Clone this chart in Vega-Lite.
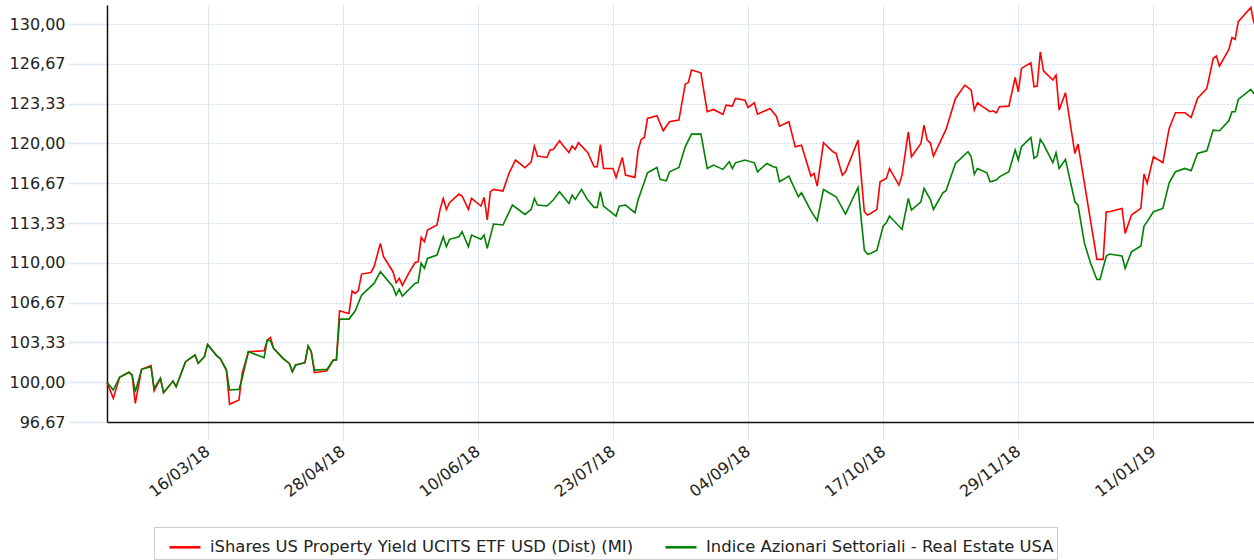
{
 "$schema": "https://vega.github.io/schema/vega-lite/v6.json",
 "autosize": {"type": "none"},
 "width": 1147,
 "height": 417,
 "padding": {"left": 107, "top": 5, "right": 0, "bottom": 138},
 "background": "white",
 "datasets": {
  "names": [
   {"k": "r", "name": "iShares US Property Yield UCITS ETF USD (Dist) (MI)"},
   {"k": "g", "name": "Indice Azionari Settoriali - Real Estate USA"}
  ]
 },
 "data": {"values": [
{"date":"2018-02-12","r":100.0,"g":100.0},
{"date":"2018-02-14","r":98.65,"g":99.35},
{"date":"2018-02-16","r":100.41,"g":100.41},
{"date":"2018-02-19","r":100.83,"g":100.83},
{"date":"2018-02-20","r":100.6,"g":100.6},
{"date":"2018-02-21","r":98.23,"g":99.21},
{"date":"2018-02-23","r":101.08,"g":101.08},
{"date":"2018-02-26","r":101.39,"g":101.3},
{"date":"2018-02-27","r":99.29,"g":99.49},
{"date":"2018-03-01","r":100.32,"g":100.32},
{"date":"2018-03-02","r":99.12,"g":99.12},
{"date":"2018-03-05","r":100.1,"g":100.1},
{"date":"2018-03-06","r":99.63,"g":99.63},
{"date":"2018-03-09","r":101.72,"g":101.72},
{"date":"2018-03-12","r":102.28,"g":102.28},
{"date":"2018-03-13","r":101.58,"g":101.58},
{"date":"2018-03-15","r":102.14,"g":102.14},
{"date":"2018-03-16","r":103.17,"g":103.17},
{"date":"2018-03-19","r":102.19,"g":102.19},
{"date":"2018-03-20","r":102.0,"g":102.0},
{"date":"2018-03-22","r":101.02,"g":101.02},
{"date":"2018-03-23","r":98.15,"g":99.35},
{"date":"2018-03-26","r":98.51,"g":99.4},
{"date":"2018-03-27","r":100.74,"g":100.32},
{"date":"2018-03-29","r":102.56,"g":102.56},
{"date":"2018-04-03","r":102.64,"g":102.06},
{"date":"2018-04-04","r":103.53,"g":103.53},
{"date":"2018-04-05","r":103.76,"g":103.48},
{"date":"2018-04-06","r":102.84,"g":102.84},
{"date":"2018-04-09","r":102.0,"g":102.0},
{"date":"2018-04-11","r":101.58,"g":101.58},
{"date":"2018-04-12","r":100.88,"g":100.88},
{"date":"2018-04-13","r":101.44,"g":101.44},
{"date":"2018-04-16","r":101.64,"g":101.64},
{"date":"2018-04-17","r":103.03,"g":103.03},
{"date":"2018-04-18","r":102.56,"g":102.56},
{"date":"2018-04-19","r":100.8,"g":101.02},
{"date":"2018-04-23","r":100.97,"g":101.08},
{"date":"2018-04-25","r":101.86,"g":101.86},
{"date":"2018-04-26","r":101.86,"g":101.86},
{"date":"2018-04-27","r":105.99,"g":105.29},
{"date":"2018-04-29","r":105.82},
{"date":"2018-04-30","r":105.77,"g":105.29},
{"date":"2018-05-01","r":107.64},
{"date":"2018-05-02","r":107.44,"g":105.99},
{"date":"2018-05-03","r":107.67},
{"date":"2018-05-04","r":109.06,"g":107.3},
{"date":"2018-05-07","r":109.2},
{"date":"2018-05-08","r":109.68,"g":108.28},
{"date":"2018-05-10","r":111.63,"g":109.26},
{"date":"2018-05-11","r":110.51},
{"date":"2018-05-14","r":109.26,"g":108.0},
{"date":"2018-05-15","r":108.34,"g":107.3},
{"date":"2018-05-16","r":108.7,"g":107.78},
{"date":"2018-05-17","r":108.11,"g":107.22},
{"date":"2018-05-19","r":109.12},
{"date":"2018-05-21","r":110.01,"g":108.28},
{"date":"2018-05-22","r":110.1,"g":108.36},
{"date":"2018-05-23","r":112.13,"g":109.96},
{"date":"2018-05-24","r":111.77,"g":109.54},
{"date":"2018-05-25","r":112.75,"g":110.37},
{"date":"2018-05-28","r":113.17,"g":110.65},
{"date":"2018-05-29","r":114.48},
{"date":"2018-05-30","r":115.4,"g":112.19},
{"date":"2018-05-31","r":114.48,"g":111.35},
{"date":"2018-06-01","r":115.04,"g":111.97},
{"date":"2018-06-04","r":115.76,"g":112.19},
{"date":"2018-06-05","r":115.6,"g":112.61},
{"date":"2018-06-07","r":114.48,"g":111.35},
{"date":"2018-06-08","r":115.4,"g":112.33},
{"date":"2018-06-11","r":114.76,"g":111.97},
{"date":"2018-06-12","r":115.48,"g":112.33},
{"date":"2018-06-13","r":113.59,"g":111.21},
{"date":"2018-06-14","r":115.96},
{"date":"2018-06-15","r":116.15,"g":113.25},
{"date":"2018-06-18","r":116.01,"g":113.17},
{"date":"2018-06-20","r":117.55},
{"date":"2018-06-21","g":114.84},
{"date":"2018-06-22","r":118.61},
{"date":"2018-06-25","r":117.97,"g":114.06},
{"date":"2018-06-27","r":118.47,"g":114.48},
{"date":"2018-06-28","r":119.78,"g":115.4},
{"date":"2018-06-29","r":118.95,"g":114.84},
{"date":"2018-07-02","r":118.83,"g":114.76},
{"date":"2018-07-03","r":119.45},
{"date":"2018-07-04","r":119.5,"g":115.26},
{"date":"2018-07-06","r":120.23,"g":115.96},
{"date":"2018-07-07","r":119.87},
{"date":"2018-07-09","r":119.25,"g":114.98},
{"date":"2018-07-10","r":119.78,"g":115.68},
{"date":"2018-07-11","r":119.5,"g":115.32},
{"date":"2018-07-12","r":120.06},
{"date":"2018-07-13","g":116.15},
{"date":"2018-07-15","r":119.22,"g":115.26},
{"date":"2018-07-17","r":118.05,"g":114.65},
{"date":"2018-07-18","r":118.05,"g":114.65},
{"date":"2018-07-19","r":119.9,"g":115.96},
{"date":"2018-07-20","r":117.91,"g":114.75},
{"date":"2018-07-23","r":117.91},
{"date":"2018-07-24","r":117.16,"g":113.92},
{"date":"2018-07-25","g":114.75},
{"date":"2018-07-26","r":118.83},
{"date":"2018-07-27","r":117.35,"g":114.84},
{"date":"2018-07-30","r":117.16,"g":114.2},
{"date":"2018-07-31","r":119.45,"g":115.26},
{"date":"2018-08-01","r":120.34},
{"date":"2018-08-02","r":120.5},
{"date":"2018-08-03","r":122.1,"g":117.55},
{"date":"2018-08-06","r":122.32,"g":117.99},
{"date":"2018-08-07","g":116.99},
{"date":"2018-08-08","r":121.06},
{"date":"2018-08-09","g":116.88},
{"date":"2018-08-10","r":121.82,"g":117.63},
{"date":"2018-08-13","r":121.96,"g":117.99},
{"date":"2018-08-15","r":124.97,"g":119.72},
{"date":"2018-08-16","r":125.11},
{"date":"2018-08-17","r":126.15,"g":120.78},
{"date":"2018-08-20","r":125.92,"g":120.78},
{"date":"2018-08-22","r":122.66,"g":117.91},
{"date":"2018-08-24","r":122.85,"g":118.19},
{"date":"2018-08-27","r":122.43,"g":117.83},
{"date":"2018-08-28","r":123.21},
{"date":"2018-08-29","g":118.47},
{"date":"2018-08-30","r":123.13,"g":117.91},
{"date":"2018-08-31","r":123.77,"g":118.38},
{"date":"2018-09-03","r":123.63,"g":118.61},
{"date":"2018-09-04","r":123.02},
{"date":"2018-09-06","r":123.41,"g":118.38},
{"date":"2018-09-07","r":122.46,"g":117.63},
{"date":"2018-09-10","g":118.33},
{"date":"2018-09-11","r":122.93},
{"date":"2018-09-12","g":118.05},
{"date":"2018-09-13","r":122.29,"g":117.99},
{"date":"2018-09-14","r":121.45,"g":116.79},
{"date":"2018-09-17","r":121.82,"g":117.27},
{"date":"2018-09-19","r":119.72},
{"date":"2018-09-20","g":115.54},
{"date":"2018-09-21","r":119.86,"g":115.87},
{"date":"2018-09-24","r":117.27,"g":114.36},
{"date":"2018-09-25","r":117.49},
{"date":"2018-09-26","r":116.43,"g":113.53},
{"date":"2018-09-28","r":120.06,"g":116.15},
{"date":"2018-10-01","r":119.3},
{"date":"2018-10-02","r":119.17,"g":115.54},
{"date":"2018-10-04","r":117.35},
{"date":"2018-10-05","r":117.63,"g":114.09},
{"date":"2018-10-09","r":120.28,"g":116.32},
{"date":"2018-10-11","r":114.28,"g":111.07},
{"date":"2018-10-12","r":114.0,"g":110.73},
{"date":"2018-10-13","r":114.14,"g":110.79},
{"date":"2018-10-15","r":114.48,"g":111.07},
{"date":"2018-10-16","r":116.79},
{"date":"2018-10-17","g":113.08},
{"date":"2018-10-18","r":117.07,"g":113.36},
{"date":"2018-10-19","r":117.91,"g":113.92},
{"date":"2018-10-22","r":116.52},
{"date":"2018-10-23","r":117.35,"g":112.8},
{"date":"2018-10-25","r":120.98,"g":115.4},
{"date":"2018-10-26","r":118.89,"g":114.42},
{"date":"2018-10-29","r":120.01,"g":115.12},
{"date":"2018-10-30","r":121.54,"g":116.24},
{"date":"2018-10-31","r":120.28},
{"date":"2018-11-01","r":120.06,"g":115.32},
{"date":"2018-11-02","r":118.94,"g":114.48},
{"date":"2018-11-05","g":115.87},
{"date":"2018-11-06","r":121.18,"g":116.04},
{"date":"2018-11-09","r":123.77,"g":118.33},
{"date":"2018-11-12","r":124.89},
{"date":"2018-11-13","g":119.31},
{"date":"2018-11-14","r":124.47,"g":118.89},
{"date":"2018-11-15","r":122.8,"g":117.44},
{"date":"2018-11-16","r":123.41,"g":117.91},
{"date":"2018-11-18","r":123.02},
{"date":"2018-11-19","g":117.55},
{"date":"2018-11-20","r":122.66,"g":116.79},
{"date":"2018-11-21","r":122.74},
{"date":"2018-11-22","r":122.57,"g":116.93},
{"date":"2018-11-23","r":123.08,"g":117.21},
{"date":"2018-11-26","r":123.13,"g":117.63},
{"date":"2018-11-28","r":125.53,"g":119.45},
{"date":"2018-11-29","r":124.33,"g":118.61},
{"date":"2018-11-30","r":126.29,"g":119.73},
{"date":"2018-12-03","r":126.76,"g":120.51},
{"date":"2018-12-04","r":124.75,"g":118.75},
{"date":"2018-12-05","r":124.81,"g":118.94},
{"date":"2018-12-06","r":127.68,"g":120.34},
{"date":"2018-12-07","r":126.09,"g":119.95},
{"date":"2018-12-10","r":125.31,"g":118.39},
{"date":"2018-12-11","r":125.73,"g":119.22},
{"date":"2018-12-12","r":122.8,"g":117.91},
{"date":"2018-12-14","r":124.25,"g":118.67},
{"date":"2018-12-17","r":119.17,"g":115.12},
{"date":"2018-12-18","r":119.95,"g":114.84},
{"date":"2018-12-20","g":111.69},
{"date":"2018-12-22","g":109.96},
{"date":"2018-12-24","r":110.29,"g":108.61},
{"date":"2018-12-25","g":108.61},
{"date":"2018-12-26","r":110.29},
{"date":"2018-12-27","r":114.28,"g":110.57},
{"date":"2018-12-28","r":114.28,"g":110.74},
{"date":"2019-01-01","r":114.56,"g":110.57},
{"date":"2019-01-02","r":112.47,"g":109.54},
{"date":"2019-01-04","r":114.0,"g":110.93},
{"date":"2019-01-07","r":114.56,"g":111.41},
{"date":"2019-01-08","r":117.44,"g":113.08},
{"date":"2019-01-09","r":116.66,"g":113.45},
{"date":"2019-01-11","r":118.89,"g":114.28},
{"date":"2019-01-14","r":118.39,"g":114.56},
{"date":"2019-01-16","r":121.26,"g":116.71},
{"date":"2019-01-18","r":122.57,"g":117.63},
{"date":"2019-01-21","r":122.57,"g":117.91},
{"date":"2019-01-23","r":122.18,"g":117.72},
{"date":"2019-01-25","r":123.77,"g":119.17},
{"date":"2019-01-28","r":124.61,"g":119.39},
{"date":"2019-01-30","r":127.12,"g":121.12},
{"date":"2019-01-31","r":127.32},
{"date":"2019-02-01","r":126.48,"g":121.07},
{"date":"2019-02-04","r":127.88,"g":121.9},
{"date":"2019-02-05","r":128.88,"g":122.66},
{"date":"2019-02-06","r":128.72,"g":122.66},
{"date":"2019-02-07","r":130.2,"g":123.69},
{"date":"2019-02-11","r":131.4,"g":124.53},
{"date":"2019-02-12","r":130.06,"g":124.14}
 ]},
 "transform": [
  {"fold": ["r", "g"], "as": ["k", "value"]},
  {"filter": "isValid(datum.value)"},
  {"lookup": "k", "from": {"data": {"name": "names"}, "key": "k", "fields": ["name"]}}
 ],
 "mark": {"type": "line", "strokeWidth": 1.6},
 "encoding": {
  "x": {
   "field": "date", "type": "temporal",
   "scale": {"domain": [{"year": 2018, "month": 2, "date": 12, "utc": true}, {"year": 2019, "month": 2, "date": 12, "utc": true}]},
   "axis": {
    "title": null,
    "values": [
     {"year": 2018, "month": 3, "date": 16, "utc": true},
     {"year": 2018, "month": 4, "date": 28, "utc": true},
     {"year": 2018, "month": 6, "date": 10, "utc": true},
     {"year": 2018, "month": 7, "date": 23, "utc": true},
     {"year": 2018, "month": 9, "date": 4, "utc": true},
     {"year": 2018, "month": 10, "date": 17, "utc": true},
     {"year": 2018, "month": 11, "date": 29, "utc": true},
     {"year": 2019, "month": 1, "date": 11, "utc": true}
    ],
    "labelExpr": "utcFormat(datum.value, '%d/%m/%y')",
    "labelAngle": -38,
    "labelAlign": "right",
    "labelBaseline": "middle",
    "labelPadding": 9,
    "labelOverlap": false,
    "labelFlush": false,
    "labelFont": "DejaVu Sans",
    "labelFontSize": 16,
    "labelColor": "#222222",
    "tickSize": 18,
    "tickColor": "#dde8f5",
    "tickWidth": 1,
    "grid": true,
    "gridColor": "#dde8f5",
    "gridWidth": 1,
    "domainColor": "#111111",
    "domainWidth": 1.5
   }
  },
  "y": {
   "field": "value", "type": "quantitative",
   "scale": {"domain": [96.67, 131.6], "nice": false, "zero": false},
   "axis": {
    "title": null,
    "values": [96.67, 100, 103.33, 106.67, 110, 113.33, 116.67, 120, 123.33, 126.67, 130],
    "labelExpr": "replace(format(datum.value, '.2f'), '.', ',')",
    "labelFont": "DejaVu Sans",
    "labelFontSize": 16,
    "labelColor": "#222222",
    "labelPadding": 3,
    "tickSize": 39,
    "tickColor": "#dde8f5",
    "tickWidth": 1.5,
    "grid": true,
    "gridColor": "#c6d9f0",
    "gridDash": [2, 2],
    "gridWidth": 1,
    "domainColor": "#111111",
    "domainWidth": 1.5
   }
  },
  "color": {
   "field": "name", "type": "nominal",
   "scale": {
    "domain": ["iShares US Property Yield UCITS ETF USD (Dist) (MI)", "Indice Azionari Settoriali - Real Estate USA"],
    "range": ["#ff0000", "#008000"]
   },
   "legend": {
    "orient": "none",
    "legendX": 47,
    "legendY": 522,
    "direction": "horizontal",
    "title": null,
    "symbolType": "stroke",
    "symbolSize": 961,
    "symbolStrokeWidth": 2.5,
    "symbolOffset": 11,
    "labelFont": "DejaVu Sans",
    "labelFontSize": 16.4,
    "labelColor": "#222222",
    "labelOffset": 8,
    "labelLimit": 1000,
    "labelExpr": "indexof(datum.label, 'Indice') == 0 ? datum.label + '\u2002\u2002\u2002' : datum.label",
    "columnPadding": 19,
    "padding": 3,
    "strokeColor": "#cccccc",
    "fillColor": "#ffffff"
   }
  }
 },
 "config": {"view": {"stroke": null}, "font": "DejaVu Sans"}
}
